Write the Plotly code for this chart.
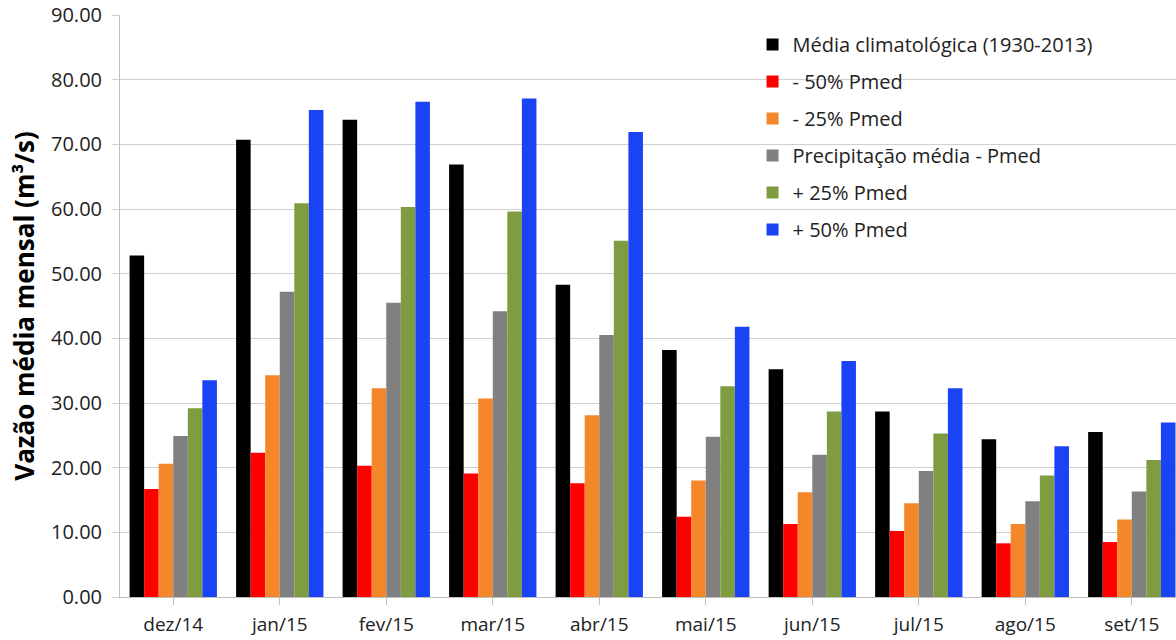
import plotly.graph_objects as go

# Monthly mean discharge scenarios (m³/s)
meses = ["dez/14", "jan/15", "fev/15", "mar/15", "abr/15",
         "mai/15", "jun/15", "jul/15", "ago/15", "set/15"]

media_climatologica = [52.8, 70.7, 73.8, 66.9, 48.3, 38.2, 35.2, 28.7, 24.4, 25.5]
menos_50 = [16.7, 22.3, 20.3, 19.1, 17.6, 12.4, 11.3, 10.2, 8.3, 8.5]
menos_25 = [20.6, 34.3, 32.3, 30.7, 28.1, 18.0, 16.2, 14.5, 11.3, 12.0]
pmed = [24.9, 47.2, 45.5, 44.2, 40.5, 24.8, 22.0, 19.5, 14.8, 16.3]
mais_25 = [29.2, 60.9, 60.3, 59.6, 55.1, 32.6, 28.7, 25.3, 18.8, 21.2]
mais_50 = [33.5, 75.3, 76.6, 77.1, 71.9, 41.8, 36.5, 32.3, 23.3, 27.0]

series = [
    ("Média climatológica (1930-2013)", media_climatologica, "#000000"),
    ("- 50% Pmed", menos_50, "#FF0000"),
    ("- 25% Pmed", menos_25, "#F5872B"),
    ("Precipitação média - Pmed", pmed, "#808080"),
    ("+ 25% Pmed", mais_25, "#7F9C40"),
    ("+ 50% Pmed", mais_50, "#1A43F5"),
]

fig = go.Figure()
for i, (nome, valores, cor) in enumerate(series):
    fig.add_trace(go.Bar(
        x=list(range(len(meses))), y=valores, name=nome,
        marker=dict(color=cor, line=dict(width=0)),
        legendgroup=f"g{i}",
    ))

font_family = "Open Sans, Liberation Sans, sans-serif"
fig.update_layout(
    width=1176, height=640,
    margin=dict(l=120, r=0, t=15, b=43),
    paper_bgcolor="white", plot_bgcolor="white",
    barmode="group", bargap=0.18, bargroupgap=0,
    font=dict(family=font_family, color="#222222"),
    showlegend=True,
    legend=dict(
        x=0.599, y=0.983, xanchor="left", yanchor="top",
        bgcolor="rgba(0,0,0,0)", borderwidth=0,
        font=dict(size=20, color="#222222"),
        tracegroupgap=8,
    ),
    xaxis=dict(
        tickmode="array", tickvals=list(range(len(meses))), ticktext=meses,
        range=[-0.5, 9.415],
        showgrid=False, showline=True, linecolor="#BFBFBF", linewidth=1,
        ticks="outside", tickson="boundaries", ticklen=7, tickcolor="#BFBFBF",
        tickfont=dict(size=19, color="#222222"),
        ticklabelstandoff=3,
    ),
    yaxis=dict(
        range=[0, 90], dtick=10, tickformat=".2f",
        showgrid=True, gridcolor="#D0D0D0", gridwidth=1,
        showline=True, linecolor="#BFBFBF", linewidth=1,
        ticks="outside", ticklen=7, tickcolor="#D0D0D0",
        tickfont=dict(size=20, color="#222222"),
        ticklabelstandoff=6,
        zeroline=False,
        title=dict(text="Vazão média mensal (m³/s)",
                   font=dict(size=26, color="#000000", family=font_family, weight="bold"),
                   standoff=8),
        automargin=False,
    ),
)

fig.write_html("out.html")
